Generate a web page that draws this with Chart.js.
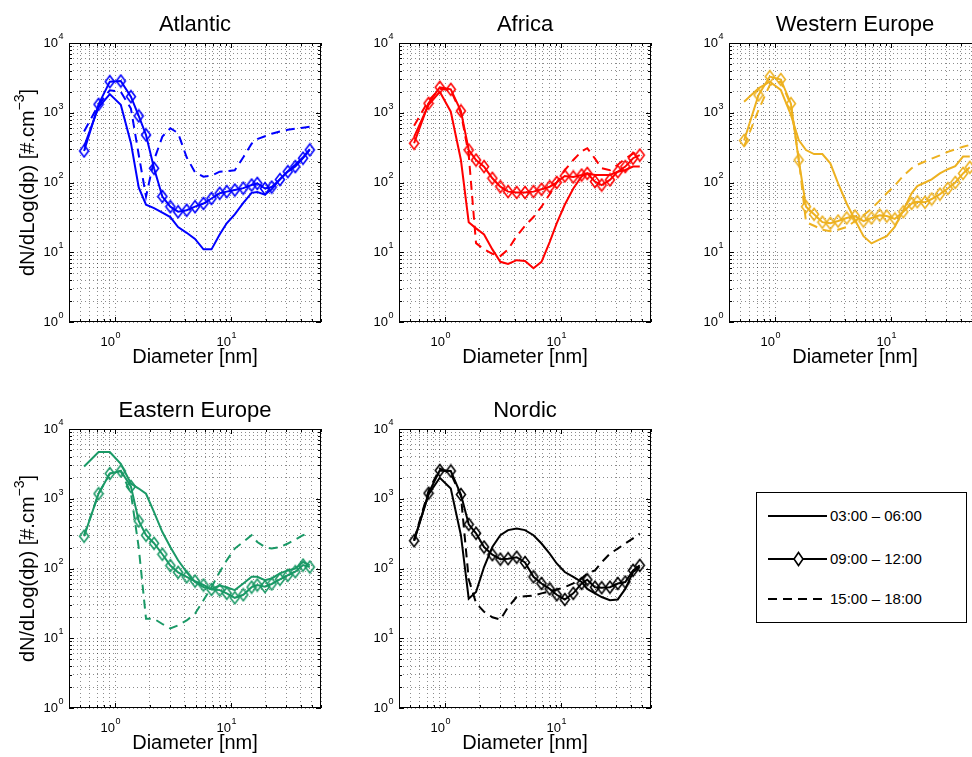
<!DOCTYPE html>
<html>
<head>
<meta charset="utf-8">
<script src="https://cdn.jsdelivr.net/npm/chart.js@4/dist/chart.umd.min.js"></script>
<style>
  html, body { margin: 0; padding: 0; background: #fff; overflow: hidden; }
  #page { position: relative; width: 972px; height: 757px; overflow: hidden; background: #fff; }
  #page canvas { position: absolute; left: 0; top: 0; }
  #legend {
    position: absolute; left: 756px; top: 492px; width: 211px; height: 131px;
    box-sizing: border-box; border: 1px solid #000; background: #fff;
    font: 15px "Liberation Sans", Arial, sans-serif; color: #000;
  }
  #legend .row { position: absolute; left: 11px; height: 16px; margin-top: -8px; }
  #legend svg { position: absolute; left: 0; top: 0; }
  #legend span { position: absolute; left: 62px; top: -1px; white-space: nowrap; line-height: 18px; }
</style>
</head>
<body>
<div id="page">
  <div id="legend"></div>
</div>
<script>
// particle diameters (nm), shared by every curve
const diameters = [0.54, 0.72, 0.9, 1.12, 1.37, 1.6, 1.85, 2.17, 2.56, 3.0, 3.5, 4.15, 4.9, 5.8,
                   6.8, 8.0, 9.2, 10.8, 12.8, 15.1, 16.9, 19.7, 22.5, 26.5, 31, 36, 42, 48];

const regions = ['Atlantic', 'Africa', 'Western Europe', 'Eastern Europe', 'Nordic'];
const periods = ['03:00 \u2013 06:00', '09:00 \u2013 12:00', '15:00 \u2013 18:00'];
const regionColors = ['#0000ff', '#ff0000', '#edb120', '#1a9966', '#000000'];

// dN/dLog(dp) [#.cm-3]
const atlantic0306 = [330, 1200, 1850, 1300, 370, 85, 48, 43, 37, 32, 23, 19, 15.5, 11, 11, 18, 26, 35, 51, 71, 73, 67, 80, 112, 145, 180, 230, 300];
const atlantic0912 = [283, 1320, 2790, 2850, 1700, 900, 480, 160, 63, 45, 38, 40, 45, 50, 59, 70, 74, 78, 83, 92, 97, 82, 86, 110, 143, 169, 223, 293];
const atlantic1518 = [540, 1300, 2100, 2000, 1150, 250, 63, 210, 455, 600, 510, 230, 140, 121, 125, 143, 145, 150, 230, 360, 420, 460, 500, 540, 570, 590, 610, 630];

const africa0306 = [450, 1300, 2000, 1035, 210, 27, 22, 18, 11, 7.3, 6.8, 7.7, 7.5, 5.9, 7.3, 14, 26, 48, 82, 122, 135, 128, 128, 128, 143, 151, 169, 169];
const africa0912 = [365, 1365, 2320, 2165, 1060, 292, 210, 169, 115, 87, 74, 72, 72, 74, 80, 87, 100, 124, 120, 128, 135, 103, 92, 109, 143, 169, 223, 247];
const africa1518 = [650, 1500, 2200, 2100, 1000, 250, 13.5, 11, 9.5, 8.8, 11, 17, 24, 32, 45, 68, 100, 150, 210, 280, 310, 220, 160, 150, 180, 220, 260, 270];

const westEurope0306 = [1440, 2240, 2790, 2130, 930, 407, 292, 256, 256, 188, 97, 50, 29, 17, 13.4, 15.3, 17, 23, 40, 70, 89, 100, 111, 135, 155, 172, 235, 235];
const westEurope0912 = [400, 1800, 3300, 3000, 1350, 210, 45, 35, 27, 26, 28, 31, 33, 28, 31, 34, 33, 30, 38, 50, 53, 52, 58, 68, 82, 100, 135, 165];
const westEurope1518 = [330, 1100, 2500, 2800, 1300, 220, 27, 24, 21, 20, 21, 23, 28, 34, 42, 55, 70, 90, 125, 160, 180, 200, 220, 245, 275, 300, 325, 345];

const eastEurope0306 = [2900, 4680, 4680, 3160, 1650, 1400, 1180, 645, 333, 203, 131, 89, 64, 54, 51, 57, 54, 49, 61, 76, 76, 68, 72, 85, 94, 100, 124, 111];
const eastEurope0912 = [290, 1180, 2300, 2500, 1500, 480, 300, 230, 160, 110, 88, 76, 66, 58, 50, 49, 44, 38, 42, 54, 58, 55, 60, 70, 80, 90, 112, 105];
const eastEurope1518 = [300, 1180, 2300, 2500, 1200, 200, 19, 19, 16, 13.8, 15.3, 18, 22.5, 35, 54, 89, 131, 193, 240, 300, 240, 203, 193, 203, 228, 260, 300, 333];

const nordic0306 = [250, 1150, 2000, 1400, 300, 37, 46, 105, 203, 300, 355, 375, 355, 300, 228, 163, 118, 89, 76, 64, 51, 44, 39, 35, 36, 51, 89, 105];
const nordic0912 = [250, 1200, 2550, 2500, 1150, 430, 320, 203, 158, 136, 138, 145, 122, 76, 61, 51, 42, 36, 44, 61, 69, 54, 53, 54, 61, 64, 94, 111];
const nordic1518 = [260, 1300, 2700, 2300, 1100, 70, 32, 24, 20, 18.5, 28, 39, 40, 41, 44, 47, 50, 54, 61, 72, 85, 94, 123, 163, 193, 228, 271, 316];

const seriesByRegion = [
  [atlantic0306, atlantic0912, atlantic1518],
  [africa0306, africa0912, africa1518],
  [westEurope0306, westEurope0912, westEurope1518],
  [eastEurope0306, eastEurope0912, eastEurope1518],
  [nordic0306, nordic0912, nordic1518]
];

// axis ranges and labelled decades
const xMin = 0.4, xMax = 60;
const yMin = 1, yMax = 10000;
const xDecades = [1, 10];
const yDecades = [1, 10, 100, 1000, 10000];

// layout: plot boxes [left, top, right, bottom] on a canvas wider than the window
const CW = 1000, CH = 757;
const panelBoxes = [[69, 43, 321, 322], [399, 43, 651, 322], [729, 43, 981, 322],
                    [69, 429, 321, 708], [399, 429, 651, 708]];
const FONT = '"Liberation Sans", Arial, sans-serif';

function logGrid(min, max) {
  const out = [];
  for (let e = Math.floor(Math.log10(min)); e <= Math.ceil(Math.log10(max)); e++) {
    for (let m = 1; m < 10; m++) {
      const v = +(m * Math.pow(10, e)).toPrecision(3);
      if (v >= min - 1e-9 && v <= max + 1e-9) out.push(v);
    }
  }
  return out;
}
const xGrid = logGrid(xMin, xMax);
const yGrid = logGrid(yMin, yMax);

// MATLAB-like open diamond (taller than wide)
function diamond(color) {
  const c = document.createElement('canvas');
  c.width = 12; c.height = 15;
  const g = c.getContext('2d');
  g.strokeStyle = color;
  g.lineWidth = 1.6;
  g.beginPath();
  g.moveTo(6, 1.5); g.lineTo(10.5, 7.5); g.lineTo(6, 13.5); g.lineTo(1.5, 7.5);
  g.closePath();
  g.stroke();
  return c;
}

// "10" with a raised exponent, "10" ends at x
function drawPower(ctx, x, y, exp) {
  ctx.textBaseline = 'middle';
  ctx.textAlign = 'left';
  ctx.font = '13px ' + FONT;
  const wBase = ctx.measureText('10').width;
  ctx.fillText('10', x - wBase, y);
  ctx.font = '9px ' + FONT;
  ctx.fillText(String(exp), x + 0.5, y - 6.5);
}

const panelPlugin = {
  id: 'panel',
  afterDraw(chart, args, opts) {
    const {ctx, chartArea: a, scales: {x, y}} = chart;
    ctx.save();
    ctx.fillStyle = '#000';
    ctx.strokeStyle = '#000';

    // box
    ctx.lineWidth = 1;
    ctx.strokeRect(Math.round(a.left) + 0.5, Math.round(a.top) + 0.5,
                   Math.round(a.right - a.left) - 1, Math.round(a.bottom - a.top) - 1);

    // inward ticks on all sides
    ctx.beginPath();
    xGrid.forEach(v => {
      const px = Math.round(x.getPixelForValue(v)) + 0.5;
      const len = xDecades.includes(v) ? 5 : 3;
      ctx.moveTo(px, a.bottom); ctx.lineTo(px, a.bottom - len);
      ctx.moveTo(px, a.top); ctx.lineTo(px, a.top + len);
    });
    yGrid.forEach(v => {
      const py = Math.round(y.getPixelForValue(v)) + 0.5;
      const len = yDecades.includes(v) ? 5 : 3;
      ctx.moveTo(a.left, py); ctx.lineTo(a.left + len, py);
      ctx.moveTo(a.right, py); ctx.lineTo(a.right - len, py);
    });
    ctx.stroke();

    // tick labels
    xDecades.forEach(v => drawPower(ctx, x.getPixelForValue(v), a.bottom + 20, Math.round(Math.log10(v))));
    yDecades.forEach(v => drawPower(ctx, a.left - 11, y.getPixelForValue(v), Math.round(Math.log10(v))));

    // title
    const cx = (a.left + a.right) / 2;
    ctx.font = '22px ' + FONT;
    ctx.textAlign = 'center';
    ctx.textBaseline = 'alphabetic';
    ctx.fillText(opts.title, cx, a.top - 12.5);

    // x title
    ctx.font = '20px ' + FONT;
    ctx.fillText('Diameter [nm]', cx, a.bottom + 41);

    // y title with superscript
    if (opts.yTitle) {
      const partA = 'dN/dLog(dp) [#.cm', sup = '\u22123', partB = ']';
      ctx.font = '20px ' + FONT;
      const wA = ctx.measureText(partA).width, wB = ctx.measureText(partB).width;
      ctx.font = '14px ' + FONT;
      const wS = ctx.measureText(sup).width;
      const total = wA + wS + wB;
      ctx.translate(28, (a.top + a.bottom) / 2);
      ctx.rotate(-Math.PI / 2);
      ctx.textAlign = 'left';
      ctx.textBaseline = 'middle';
      const sx = -total / 2;
      ctx.font = '20px ' + FONT;
      ctx.fillText(partA, sx, 0);
      ctx.font = '14px ' + FONT;
      ctx.fillText(sup, sx + wA, -8);
      ctx.font = '20px ' + FONT;
      ctx.fillText(partB, sx + wA + wS, 0);
    }
    ctx.restore();
  }
};

const page = document.getElementById('page');

function points(values) {
  return diameters.map((d, i) => ({x: d, y: values[i]}));
}

function makePanel(i) {
  const canvas = document.createElement('canvas');
  canvas.width = CW;
  canvas.height = CH;
  page.insertBefore(canvas, document.getElementById('legend'));
  const [l, t, r, b] = panelBoxes[i];
  const color = regionColors[i];
  const [s0, s1, s2] = seriesByRegion[i];

  const gridOpts = {color: 'rgba(0,0,0,0.45)', lineWidth: 1, drawTicks: false};
  const borderOpts = {display: false, dash: [1, 3]};

  return new Chart(canvas, {
    type: 'line',
    data: {
      datasets: [
        {label: periods[0], data: points(s0), borderColor: color, borderWidth: 2, pointRadius: 0, tension: 0},
        {label: periods[1], data: points(s1), borderColor: color, borderWidth: 2, tension: 0,
         pointStyle: diamond(color), pointRadius: 6},
        {label: periods[2], data: points(s2), borderColor: color, borderWidth: 2, pointRadius: 0, tension: 0,
         borderDash: [9, 6]}
      ]
    },
    options: {
      responsive: false,
      animation: false,
      devicePixelRatio: 1,
      layout: {padding: {left: l, top: t, right: CW - r, bottom: CH - b}},
      plugins: {
        legend: {display: false},
        tooltip: {enabled: false},
        panel: {title: regions[i], yTitle: i === 0 || i === 3}
      },
      scales: {
        x: {
          type: 'logarithmic', min: xMin, max: xMax,
          afterBuildTicks: s => { s.ticks = xGrid.map(v => ({value: v})); },
          ticks: {display: false},
          grid: gridOpts,
          border: borderOpts
        },
        y: {
          type: 'logarithmic', min: yMin, max: yMax,
          afterBuildTicks: s => { s.ticks = yGrid.map(v => ({value: v})); },
          ticks: {display: false},
          grid: gridOpts,
          border: borderOpts
        }
      }
    },
    plugins: [panelPlugin]
  });
}

regions.forEach((name, i) => makePanel(i));

// legend box
const legend = document.getElementById('legend');
const legendRows = [23, 66, 106];
periods.forEach((p, i) => {
  const row = document.createElement('div');
  row.className = 'row';
  row.style.top = legendRows[i] + 'px';
  let svg = '<svg width="60" height="16" viewBox="0 0 60 16">';
  if (i === 2) {
    svg += '<line x1="0" y1="8" x2="59" y2="8" stroke="#000" stroke-width="2" stroke-dasharray="9 6"/>';
  } else {
    svg += '<line x1="0" y1="8" x2="59" y2="8" stroke="#000" stroke-width="2"/>';
  }
  if (i === 1) {
    svg += '<polygon points="30.5,1.5 35,8 30.5,14.5 26,8" fill="#fff" stroke="#000" stroke-width="1.6"/>';
  }
  svg += '</svg>';
  row.innerHTML = svg + '<span>' + p + '</span>';
  legend.appendChild(row);
});
</script>
</body>
</html>
